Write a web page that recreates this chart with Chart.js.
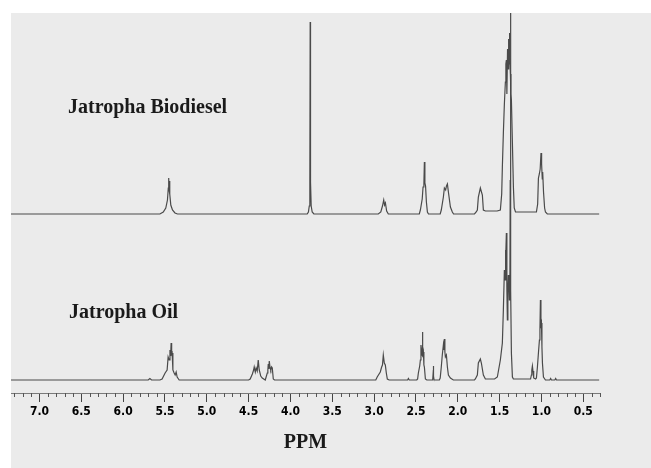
<!DOCTYPE html>
<html>
<head>
<meta charset="utf-8">
<script src="https://cdn.jsdelivr.net/npm/chart.js@4.4.1/dist/chart.umd.min.js"></script>
<style>
  html, body { margin: 0; padding: 0; background: #fff; }
  #wrap { position: absolute; left: 11px; top: 13px; width: 640px; height: 455px; background: #ebebeb; }
</style>
</head>
<body>
<div id="wrap"><canvas id="nmr" width="640" height="455"></canvas></div>
<script>
// 1H NMR, chemical shift (ppm) and signal height above each baseline
const bioPpm = [7.34, 5.56, 5.52, 5.49, 5.47, 5.46, 5.455, 5.45, 5.445, 5.44, 5.43, 5.41, 5.38, 5.35,
  3.80, 3.785, 3.775, 3.768, 3.764, 3.760, 3.752, 3.74, 3.72,
  2.95, 2.92, 2.90, 2.885, 2.875, 2.865, 2.85, 2.83,
  2.46, 2.447, 2.425, 2.415, 2.405, 2.399, 2.393, 2.385, 2.375, 2.363, 2.35,
  2.21, 2.197, 2.172, 2.16, 2.145, 2.135, 2.124, 2.112, 2.088, 2.065, 2.05,
  1.80, 1.78, 1.766, 1.754, 1.73, 1.706, 1.694, 1.67, 1.53,
  1.527, 1.491, 1.475, 1.467, 1.455, 1.443, 1.431, 1.425, 1.419, 1.413, 1.405, 1.398, 1.392, 1.386,
  1.383, 1.378, 1.371, 1.365, 1.359, 1.347, 1.335, 1.325, 1.31, 1.25, 1.08,
  1.06, 1.045, 1.036, 1.025, 1.015, 1.005, 0.998, 0.99, 0.985, 0.975, 0.962, 0.952, 0.93, 0.31];
const bioInt = [0, 0, 2, 6, 14, 26, 36, 24, 33, 20, 9, 4, 1, 0,
  0, 2, 8, 32, 192, 32, 8, 2, 0,
  0, 2, 8, 14, 9, 11, 3, 0,
  0, 4, 15, 27, 30, 52, 31, 28, 12, 2, 0,
  0, 4, 17, 26, 24, 28, 30, 22, 7, 2, 0,
  0, 2, 4, 17, 26, 19, 4, 3, 3,
  3, 4, 20, 47, 81, 110, 132, 150, 154, 120, 165, 145, 175, 150,
  181, 160, 140, 120, 114, 71, 27, 6, 2, 2, 2,
  2, 10, 36, 40, 45, 61, 50, 35, 42, 22, 6, 2, 0, 0];

const oilPpm = [7.34, 5.70, 5.68, 5.66, 5.56, 5.534, 5.498, 5.474, 5.462, 5.45, 5.44, 5.432, 5.426, 5.42,
  5.414, 5.405, 5.39, 5.378, 5.366, 5.354, 5.33,
  4.50, 4.481, 4.455, 4.44, 4.433, 4.42, 4.41, 4.397, 4.385, 4.373, 4.355, 4.337, 4.301,
  4.277, 4.27, 4.265, 4.258, 4.253, 4.243, 4.235, 4.225, 4.217, 4.205, 4.19,
  2.98, 2.963, 2.926, 2.91, 2.90, 2.89, 2.878, 2.866, 2.854, 2.842, 2.82,
  2.60, 2.59, 2.58,
  2.49, 2.48, 2.471, 2.455, 2.447, 2.44, 2.433, 2.427, 2.423, 2.417, 2.411, 2.405, 2.399, 2.387, 2.37,
  2.30, 2.295, 2.292, 2.288, 2.283,
  2.22, 2.21, 2.197, 2.185, 2.172, 2.166, 2.16, 2.154, 2.148, 2.136, 2.124, 2.112, 2.088, 2.053,
  1.80, 1.79, 1.766, 1.754, 1.73, 1.718, 1.694, 1.67,
  1.56, 1.527, 1.491, 1.467, 1.455, 1.443, 1.435, 1.431, 1.425, 1.419, 1.413, 1.407, 1.401, 1.395,
  1.389, 1.383, 1.377, 1.373, 1.371, 1.368, 1.365, 1.359, 1.347, 1.335,
  1.15, 1.13, 1.12, 1.115, 1.108, 1.10, 1.095, 1.09, 1.07,
  1.06, 1.048, 1.036, 1.024, 1.018, 1.012, 1.006, 1.000, 0.994, 0.988, 0.976, 0.952,
  0.90, 0.89, 0.88, 0.84, 0.83, 0.82, 0.31];
const oilInt = [0, 0, 1.5, 0, 0, 1, 7, 10, 23, 20, 30, 24, 37, 26,
  27, 10, 7, 5, 8, 3, 0,
  0, 1, 6, 10, 13, 8, 12, 9, 20, 10, 4, 2, 0,
  7, 10, 16, 11, 19, 12, 10, 13, 12, 1, 0,
  0, 3, 8, 13, 15, 25, 17, 15, 7, 1, 0,
  0, 1.5, 0,
  0, 1, 7, 14, 20, 35, 30, 25, 48, 24, 28, 15, 13, 1, 0,
  0, 6, 14, 4, 0,
  0, 2, 13, 25, 35, 30, 41, 28, 23, 25, 13, 5, 2, 0,
  0, 1, 5, 17, 21, 17, 5, 1,
  1, 3, 20, 37, 70, 110, 100, 130, 120, 147, 90, 60, 90, 105,
  95, 80, 95, 200, 400, 200, 90, 27, 3, 1,
  1, 1, 5, 10, 14, 8, 9, 2, 1,
  2, 13, 27, 40, 50, 80, 55, 57, 33, 17, 3, 0,
  0, 1.5, 0, 0, 1.5, 0, 0];

const spectrumNames = ['Jatropha Biodiesel', 'Jatropha Oil'];
const baselines = [179, 13];   // offset of each trace above the axis
const majorTicks = [7.0, 6.5, 6.0, 5.5, 5.0, 4.5, 4.0, 3.5, 3.0, 2.5, 2.0, 1.5, 1.0, 0.5];

function toPoints(ppm, ints, base) {
  return ppm.map((p, i) => ({ x: p, y: ints[i] + base }));
}

const extras = {
  id: 'extras',
  afterDraw(chart) {
    const ctx = chart.ctx;
    const xs = chart.scales.x;
    const y0 = chart.chartArea.bottom;
    ctx.save();
    // minor ticks every 0.1 ppm
    ctx.strokeStyle = '#555';
    ctx.lineWidth = 1;
    ctx.beginPath();
    for (let k = 3; k <= 73; k++) {
      if (k % 5 === 0) continue;
      const px = Math.round(xs.getPixelForValue(k / 10)) + 0.5;
      ctx.moveTo(px, y0);
      ctx.lineTo(px, y0 + 4);
    }
    ctx.stroke();
    // trace names
    ctx.fillStyle = '#1a1a1a';
    ctx.font = 'bold 20px "Liberation Serif", "Times New Roman", serif';
    ctx.textBaseline = 'alphabetic';
    ctx.fillText(spectrumNames[0], 57, 100);
    ctx.fillText(spectrumNames[1], 58, 305);
    ctx.restore();
  }
};

new Chart(document.getElementById('nmr'), {
  type: 'line',
  data: {
    datasets: [
      { label: spectrumNames[0], data: toPoints(bioPpm, bioInt, baselines[0]) },
      { label: spectrumNames[1], data: toPoints(oilPpm, oilInt, baselines[1]) }
    ]
  },
  options: {
    responsive: false,
    animation: false,
    layout: { padding: { left: 0, right: 51, top: 0, bottom: 0 } },
    elements: {
      line: { borderColor: '#4a4a4a', borderWidth: 1.2, tension: 0 },
      point: { radius: 0 }
    },
    plugins: { legend: { display: false }, tooltip: { enabled: false } },
    scales: {
      x: {
        type: 'linear',
        reverse: true,
        min: 0.30,
        max: 7.34,
        afterFit: (s) => { s.height = 75; },
        afterBuildTicks: (s) => { s.ticks = majorTicks.map(v => ({ value: v })); },
        border: { display: true, color: '#7a7a7a', width: 1 },
        grid: { drawOnChartArea: false, drawTicks: true, tickLength: 9, tickColor: '#444' },
        ticks: {
          padding: 3,
          maxRotation: 0,
          autoSkip: false,
          color: '#000',
          font: { family: '"DejaVu Sans Condensed", "DejaVu Sans", sans-serif', size: 12, weight: 'bold' },
          callback: (v) => Number(v).toFixed(1)
        },
        title: {
          display: true,
          text: 'PPM',
          color: '#1a1a1a',
          font: { family: '"Liberation Serif", "Times New Roman", serif', size: 20, weight: 'bold' },
          padding: { top: 0, bottom: 13 }
        }
      },
      y: { display: false, min: 0, max: 380 }
    }
  },
  plugins: [extras]
});
</script>
</body>
</html>
